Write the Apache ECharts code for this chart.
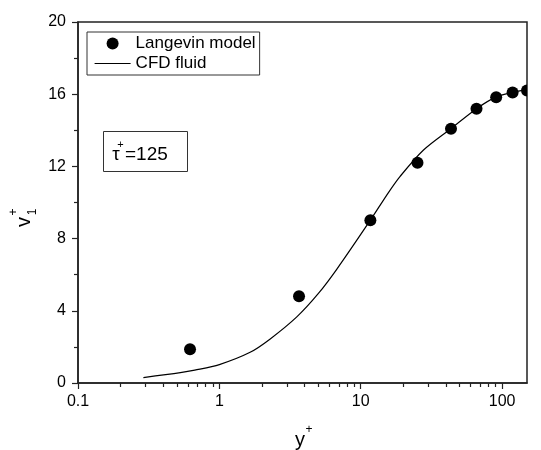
<!DOCTYPE html>
<html>
<head>
<meta charset="utf-8">
<script src="https://cdn.jsdelivr.net/npm/echarts@6/dist/echarts.min.js"></script>
<style>
  html, body { margin: 0; padding: 0; background: #fff; }
  #chart { width: 541px; height: 450px; }
</style>
</head>
<body>
<div id="chart"></div>
<script>
// Langevin model: mean streamwise particle velocity v1+ against wall distance y+
const langevinY = [0.62, 3.66, 11.7, 25.2, 43.5, 65.9, 90.8, 118.6, 150];
const langevinV = [1.87, 4.81, 9.02, 12.2, 14.09, 15.2, 15.83, 16.1, 16.2];

// CFD fluid velocity profile
const cfdY = [0.29, 0.53, 0.67, 1.0, 1.65, 2.29, 3.53, 5.02, 6.78, 11.7, 15.7, 19.0, 27.8, 43.5, 66, 91, 119, 150];
const cfdV = [0.30, 0.57, 0.71, 1.02, 1.70, 2.44, 3.66, 4.96, 6.31, 9.02, 10.55, 11.45, 12.91, 14.1, 15.2, 15.85, 16.1, 16.25];

// Axis ticks
const xMajorTicks = [0.1, 1, 10, 100];
const xMinorTicks = [0.2, 0.3, 0.4, 0.5, 0.6, 0.7, 0.8, 0.9,
                     2, 3, 4, 5, 6, 7, 8, 9,
                     20, 30, 40, 50, 60, 70, 80, 90];
const yTickLabels = [0, 4, 8, 12, 16, 20];

const FONT = '"Liberation Sans", Arial, Helvetica, sans-serif';
const INK = '#000';
const AXIS = '#222';

const chart = echarts.init(document.getElementById('chart'), null, { renderer: 'canvas' });

const grid = { left: 78, right: 14, top: 22, bottom: 67, show: true,
  borderColor: AXIS, borderWidth: 1.5, backgroundColor: 'transparent' };

const baseX = {
  type: 'log', logBase: 10, min: 0.1, max: 150,
  position: 'bottom', offset: 0,
  splitLine: { show: false }
};

chart.setOption({
  animation: false,
  backgroundColor: '#fff',
  grid: grid,
  xAxis: [
    Object.assign({}, baseX, {
      axisLine: { show: true, lineStyle: { color: AXIS, width: 1.5 } },
      axisTick: { show: true, length: 6, customValues: xMajorTicks, lineStyle: { color: AXIS, width: 1.2 } },
      axisLabel: { customValues: xMajorTicks, margin: 11, color: INK, fontFamily: FONT, fontSize: 16,
        formatter: v => String(v) }
    }),
    Object.assign({}, baseX, {
      axisLine: { show: false },
      axisTick: { show: true, length: 4, customValues: xMinorTicks, lineStyle: { color: AXIS, width: 1.2 } },
      axisLabel: { show: false }
    })
  ],
  yAxis: {
    type: 'value', min: 0, max: 20, interval: 4,
    splitLine: { show: false },
    axisLine: { show: true, lineStyle: { color: AXIS, width: 1.5 } },
    axisTick: { show: true, length: 6, lineStyle: { color: AXIS, width: 1.2 } },
    minorTick: { show: true, splitNumber: 2, length: 4, lineStyle: { color: AXIS, width: 1.2 } },
    axisLabel: { margin: 12, color: INK, fontFamily: FONT, fontSize: 16,
      customValues: yTickLabels }
  },
  legend: {
    left: 87, top: 32, orient: 'vertical',
    padding: [3, 4, 3, 7],
    itemGap: 3, itemWidth: 36, itemHeight: 12,
    borderColor: '#333', borderWidth: 1,
    textStyle: { color: INK, fontFamily: FONT, fontSize: 17 },
    data: [
      { name: 'Langevin model', icon: 'circle', itemStyle: { color: '#000' } },
      { name: 'CFD fluid', itemStyle: { color: 'rgba(0,0,0,0)', borderWidth: 0 },
        lineStyle: { color: '#000', width: 1.2 } }
    ]
  },
  series: [
    {
      name: 'CFD fluid',
      type: 'line',
      xAxisIndex: 0,
      data: cfdY.map((y, i) => [y, cfdV[i]]),
      smooth: 0.3,
      showSymbol: false,
      symbol: 'none',
      lineStyle: { color: '#000', width: 1.2 },
      itemStyle: { color: '#000' },
      clip: true,
      z: 3
    },
    {
      name: 'Langevin model',
      type: 'custom',
      xAxisIndex: 0,
      clip: true,
      data: langevinY.map((y, i) => [y, langevinV[i]]),
      encode: { x: 0, y: 1 },
      itemStyle: { color: '#000' },
      renderItem: function (params, api) {
        const p = api.coord([api.value(0), api.value(1)]);
        return { type: 'circle', shape: { cx: p[0], cy: p[1], r: 6 }, style: { fill: '#000' } };
      },
      z: 4
    }
  ],
  graphic: [
    // y-axis title: v with superscript + and subscript 1, rotated
    { type: 'text', x: 24, y: 222, rotation: Math.PI / 2,
      style: { text: 'v', font: '20px ' + FONT, fill: INK, align: 'center', verticalAlign: 'middle' } },
    { type: 'text', x: 13.5, y: 212, rotation: Math.PI / 2,
      style: { text: '+', font: '12px ' + FONT, fill: INK, align: 'center', verticalAlign: 'middle' } },
    { type: 'text', x: 33, y: 212, rotation: Math.PI / 2,
      style: { text: '1', font: '12px ' + FONT, fill: INK, align: 'center', verticalAlign: 'middle' } },
    // x-axis title: y+
    { type: 'text', x: 300, y: 440,
      style: { text: 'y', font: '20px ' + FONT, fill: INK, align: 'center', verticalAlign: 'middle' } },
    { type: 'text', x: 309, y: 430,
      style: { text: '+', font: '12px ' + FONT, fill: INK, align: 'center', verticalAlign: 'middle' } },
    // annotation box: tau+ = 125
    { type: 'rect', shape: { x: 103.5, y: 131.5, width: 84, height: 40 },
      style: { fill: '#fff', stroke: '#333', lineWidth: 1 }, z: 10 },
    { type: 'text', x: 116, y: 155, z: 11,
      style: { text: 'τ', font: '19px ' + FONT, fill: INK, align: 'center', verticalAlign: 'middle' } },
    { type: 'text', x: 120.5, y: 145, z: 11,
      style: { text: '+', font: '11px ' + FONT, fill: INK, align: 'center', verticalAlign: 'middle' } },
    { type: 'text', x: 125, y: 155, z: 11,
      style: { text: '=125', font: '19px ' + FONT, fill: INK, align: 'left', verticalAlign: 'middle' } }
  ]
});
</script>
</body>
</html>
